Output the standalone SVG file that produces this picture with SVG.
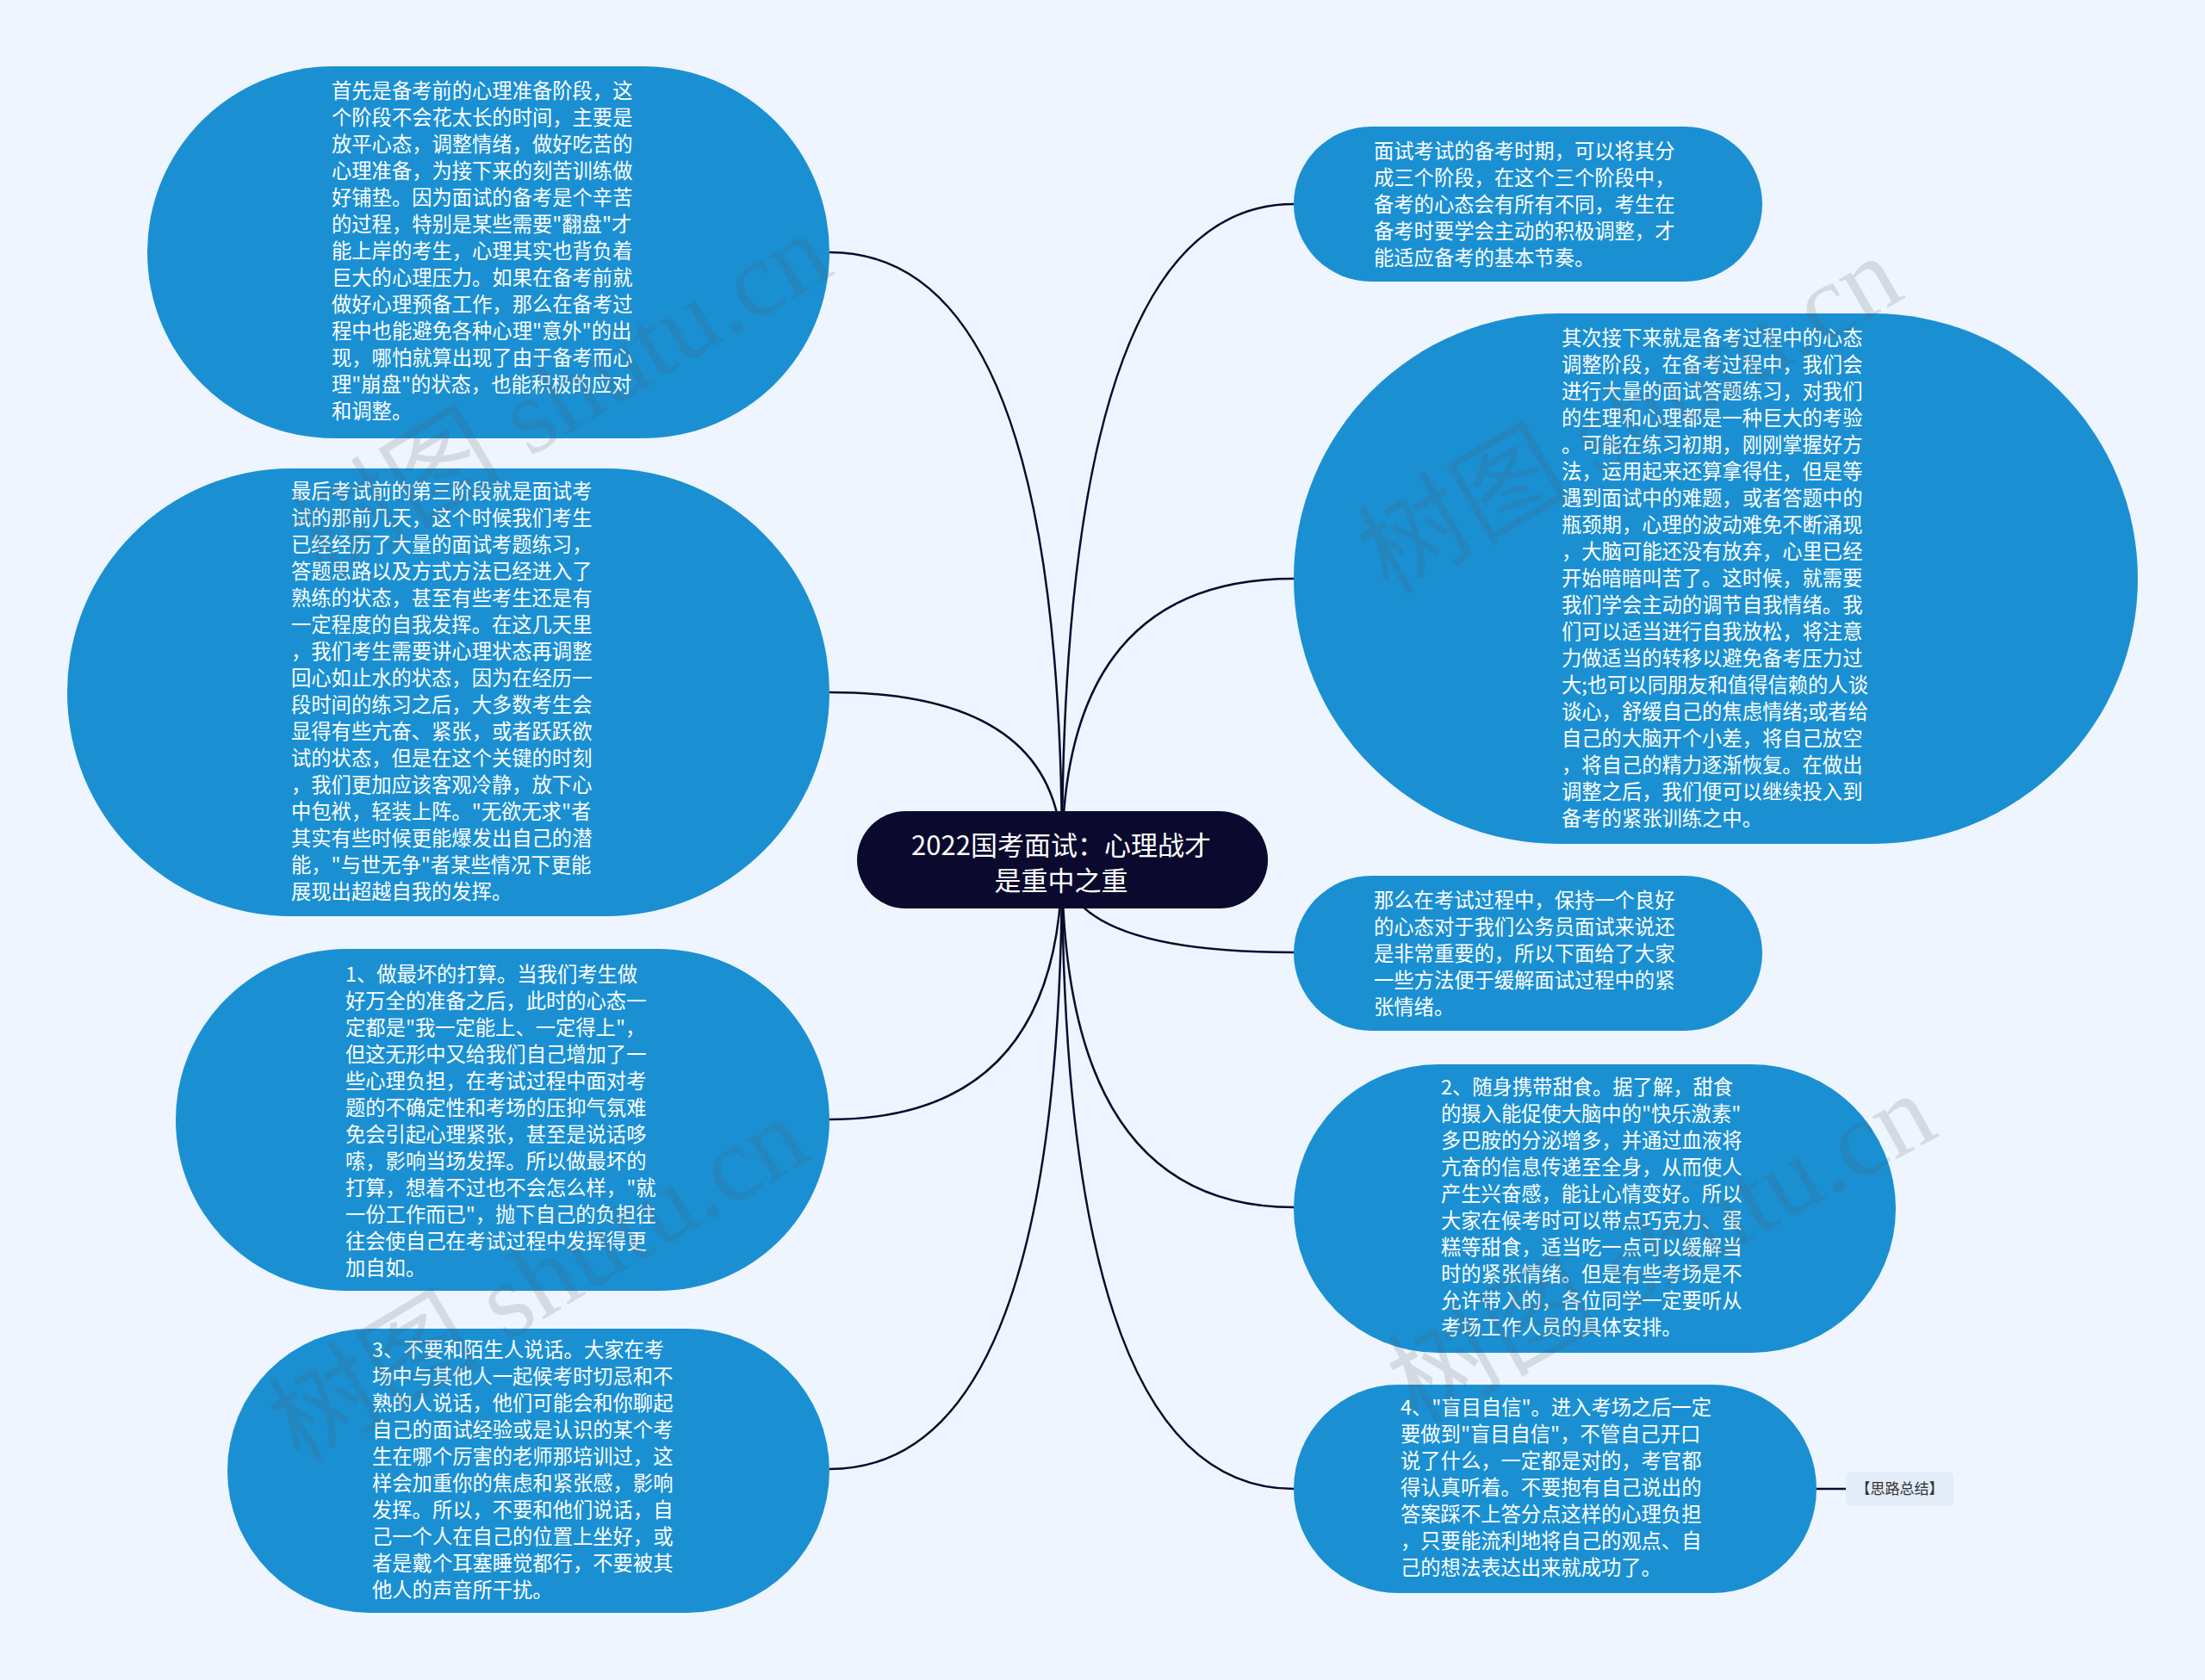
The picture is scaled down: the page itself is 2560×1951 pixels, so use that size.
<svg xmlns="http://www.w3.org/2000/svg" width="2560" height="1951" viewBox="0 0 2560 1951">
<style>
.bg{fill:#eef5fe}
.node{fill:#1a90d3}
.t{font-family:"Noto Sans CJK SC","Noto Sans",sans-serif;font-size:23.3px;fill:#ffffff}
.ct{font-family:"Noto Sans CJK SC","Noto Sans",sans-serif;font-size:31px;fill:#ffffff;text-anchor:middle}
.link{fill:none;stroke:#0b0a2e;stroke-width:2.5}
.wm{font-family:"Liberation Serif","Noto Sans CJK SC",serif;font-size:124px;fill:#555;opacity:0.16}
.tag{fill:#e3ecf9}
.tagt{font-family:"Noto Sans CJK SC",sans-serif;font-size:17px;fill:#333;text-anchor:middle}
</style>
<rect class="bg" x="0" y="0" width="2560" height="1951"/>
<g id="connectors">
<path class="link" d="M1233,998 Q1233,293 963,293"/>
<path class="link" d="M1233,998 Q1233,804 963,804"/>
<path class="link" d="M1233,998 Q1233,1300 963,1300"/>
<path class="link" d="M1233,998 Q1233,1706 963,1706"/>
<path class="link" d="M1233,998 Q1233,237 1502,237"/>
<path class="link" d="M1233,998 Q1233,672 1502,672"/>
<path class="link" d="M1233,998 Q1233,1106 1502,1106"/>
<path class="link" d="M1233,998 Q1233,1402 1502,1402"/>
<path class="link" d="M1233,998 Q1233,1729 1502,1729"/>
<path class="link" d="M2109,1729 L2143,1729"/>
</g>
<g id="center">
<rect x="995" y="942" width="477" height="113" rx="56.5" fill="#0b0a2e"/>
<text class="ct" x="1232" y="993">2022国考面试：心理战才</text>
<text class="ct" x="1232" y="1034">是重中之重</text>
</g>
<g id="n-tl">
<rect class="node" x="171" y="77" width="792" height="432" rx="216"/>
<text class="t" x="385" y="114">
<tspan x="385">首先是备考前的心理准备阶段，这</tspan>
<tspan x="385" dy="31">个阶段不会花太长的时间，主要是</tspan>
<tspan x="385" dy="31">放平心态，调整情绪，做好吃苦的</tspan>
<tspan x="385" dy="31">心理准备，为接下来的刻苦训练做</tspan>
<tspan x="385" dy="31">好铺垫。因为面试的备考是个辛苦</tspan>
<tspan x="385" dy="31">的过程，特别是某些需要"翻盘"才</tspan>
<tspan x="385" dy="31">能上岸的考生，心理其实也背负着</tspan>
<tspan x="385" dy="31">巨大的心理压力。如果在备考前就</tspan>
<tspan x="385" dy="31">做好心理预备工作，那么在备考过</tspan>
<tspan x="385" dy="31">程中也能避免各种心理"意外"的出</tspan>
<tspan x="385" dy="31">现，哪怕就算出现了由于备考而心</tspan>
<tspan x="385" dy="31">理"崩盘"的状态，也能积极的应对</tspan>
<tspan x="385" dy="31">和调整。</tspan>
</text>
</g>
<g id="n-l2">
<rect class="node" x="78" y="544" width="885" height="520" rx="260"/>
<text class="t" x="338" y="579">
<tspan x="338">最后考试前的第三阶段就是面试考</tspan>
<tspan x="338" dy="31">试的那前几天，这个时候我们考生</tspan>
<tspan x="338" dy="31">已经经历了大量的面试考题练习，</tspan>
<tspan x="338" dy="31">答题思路以及方式方法已经进入了</tspan>
<tspan x="338" dy="31">熟练的状态，甚至有些考生还是有</tspan>
<tspan x="338" dy="31">一定程度的自我发挥。在这几天里</tspan>
<tspan x="338" dy="31">，我们考生需要讲心理状态再调整</tspan>
<tspan x="338" dy="31">回心如止水的状态，因为在经历一</tspan>
<tspan x="338" dy="31">段时间的练习之后，大多数考生会</tspan>
<tspan x="338" dy="31">显得有些亢奋、紧张，或者跃跃欲</tspan>
<tspan x="338" dy="31">试的状态，但是在这个关键的时刻</tspan>
<tspan x="338" dy="31">，我们更加应该客观冷静，放下心</tspan>
<tspan x="338" dy="31">中包袱，轻装上阵。"无欲无求"者</tspan>
<tspan x="338" dy="31">其实有些时候更能爆发出自己的潜</tspan>
<tspan x="338" dy="31">能，"与世无争"者某些情况下更能</tspan>
<tspan x="338" dy="31">展现出超越自我的发挥。</tspan>
</text>
</g>
<g id="n-l3">
<rect class="node" x="204" y="1102" width="759" height="397" rx="198.5"/>
<text class="t" x="401" y="1140">
<tspan x="401">1、做最坏的打算。当我们考生做</tspan>
<tspan x="401" dy="31">好万全的准备之后，此时的心态一</tspan>
<tspan x="401" dy="31">定都是"我一定能上、一定得上"，</tspan>
<tspan x="401" dy="31">但这无形中又给我们自己增加了一</tspan>
<tspan x="401" dy="31">些心理负担，在考试过程中面对考</tspan>
<tspan x="401" dy="31">题的不确定性和考场的压抑气氛难</tspan>
<tspan x="401" dy="31">免会引起心理紧张，甚至是说话哆</tspan>
<tspan x="401" dy="31">嗦，影响当场发挥。所以做最坏的</tspan>
<tspan x="401" dy="31">打算，想着不过也不会怎么样，"就</tspan>
<tspan x="401" dy="31">一份工作而已"，抛下自己的负担往</tspan>
<tspan x="401" dy="31">往会使自己在考试过程中发挥得更</tspan>
<tspan x="401" dy="31">加自如。</tspan>
</text>
</g>
<g id="n-l4">
<rect class="node" x="264" y="1543" width="699" height="330" rx="165"/>
<text class="t" x="432" y="1576">
<tspan x="432">3、不要和陌生人说话。大家在考</tspan>
<tspan x="432" dy="31">场中与其他人一起候考时切忌和不</tspan>
<tspan x="432" dy="31">熟的人说话，他们可能会和你聊起</tspan>
<tspan x="432" dy="31">自己的面试经验或是认识的某个考</tspan>
<tspan x="432" dy="31">生在哪个厉害的老师那培训过，这</tspan>
<tspan x="432" dy="31">样会加重你的焦虑和紧张感，影响</tspan>
<tspan x="432" dy="31">发挥。所以，不要和他们说话，自</tspan>
<tspan x="432" dy="31">己一个人在自己的位置上坐好，或</tspan>
<tspan x="432" dy="31">者是戴个耳塞睡觉都行，不要被其</tspan>
<tspan x="432" dy="31">他人的声音所干扰。</tspan>
</text>
</g>
<g id="n-r1">
<rect class="node" x="1502" y="147" width="544" height="180" rx="90"/>
<text class="t" x="1595" y="184">
<tspan x="1595">面试考试的备考时期，可以将其分</tspan>
<tspan x="1595" dy="31">成三个阶段，在这个三个阶段中，</tspan>
<tspan x="1595" dy="31">备考的心态会有所有不同，考生在</tspan>
<tspan x="1595" dy="31">备考时要学会主动的积极调整，才</tspan>
<tspan x="1595" dy="31">能适应备考的基本节奏。</tspan>
</text>
</g>
<g id="n-r2">
<rect class="node" x="1502" y="364" width="980" height="616" rx="308"/>
<text class="t" x="1813" y="401">
<tspan x="1813">其次接下来就是备考过程中的心态</tspan>
<tspan x="1813" dy="31">调整阶段，在备考过程中，我们会</tspan>
<tspan x="1813" dy="31">进行大量的面试答题练习，对我们</tspan>
<tspan x="1813" dy="31">的生理和心理都是一种巨大的考验</tspan>
<tspan x="1813" dy="31">。可能在练习初期，刚刚掌握好方</tspan>
<tspan x="1813" dy="31">法，运用起来还算拿得住，但是等</tspan>
<tspan x="1813" dy="31">遇到面试中的难题，或者答题中的</tspan>
<tspan x="1813" dy="31">瓶颈期，心理的波动难免不断涌现</tspan>
<tspan x="1813" dy="31">，大脑可能还没有放弃，心里已经</tspan>
<tspan x="1813" dy="31">开始暗暗叫苦了。这时候，就需要</tspan>
<tspan x="1813" dy="31">我们学会主动的调节自我情绪。我</tspan>
<tspan x="1813" dy="31">们可以适当进行自我放松，将注意</tspan>
<tspan x="1813" dy="31">力做适当的转移以避免备考压力过</tspan>
<tspan x="1813" dy="31">大;也可以同朋友和值得信赖的人谈</tspan>
<tspan x="1813" dy="31">谈心，舒缓自己的焦虑情绪;或者给</tspan>
<tspan x="1813" dy="31">自己的大脑开个小差，将自己放空</tspan>
<tspan x="1813" dy="31">，将自己的精力逐渐恢复。在做出</tspan>
<tspan x="1813" dy="31">调整之后，我们便可以继续投入到</tspan>
<tspan x="1813" dy="31">备考的紧张训练之中。</tspan>
</text>
</g>
<g id="n-r3">
<rect class="node" x="1502" y="1017" width="544" height="180" rx="90"/>
<text class="t" x="1595" y="1054">
<tspan x="1595">那么在考试过程中，保持一个良好</tspan>
<tspan x="1595" dy="31">的心态对于我们公务员面试来说还</tspan>
<tspan x="1595" dy="31">是非常重要的，所以下面给了大家</tspan>
<tspan x="1595" dy="31">一些方法便于缓解面试过程中的紧</tspan>
<tspan x="1595" dy="31">张情绪。</tspan>
</text>
</g>
<g id="n-r4">
<rect class="node" x="1502" y="1236" width="699" height="335" rx="167.5"/>
<text class="t" x="1673" y="1271">
<tspan x="1673">2、随身携带甜食。据了解，甜食</tspan>
<tspan x="1673" dy="31">的摄入能促使大脑中的"快乐激素"</tspan>
<tspan x="1673" dy="31">多巴胺的分泌增多，并通过血液将</tspan>
<tspan x="1673" dy="31">亢奋的信息传递至全身，从而使人</tspan>
<tspan x="1673" dy="31">产生兴奋感，能让心情变好。所以</tspan>
<tspan x="1673" dy="31">大家在候考时可以带点巧克力、蛋</tspan>
<tspan x="1673" dy="31">糕等甜食，适当吃一点可以缓解当</tspan>
<tspan x="1673" dy="31">时的紧张情绪。但是有些考场是不</tspan>
<tspan x="1673" dy="31">允许带入的，各位同学一定要听从</tspan>
<tspan x="1673" dy="31">考场工作人员的具体安排。</tspan>
</text>
</g>
<g id="n-r5">
<rect class="node" x="1502" y="1608" width="607" height="242" rx="121"/>
<text class="t" x="1626" y="1643">
<tspan x="1626">4、"盲目自信"。进入考场之后一定</tspan>
<tspan x="1626" dy="31">要做到"盲目自信"，不管自己开口</tspan>
<tspan x="1626" dy="31">说了什么，一定都是对的，考官都</tspan>
<tspan x="1626" dy="31">得认真听着。不要抱有自己说出的</tspan>
<tspan x="1626" dy="31">答案踩不上答分点这样的心理负担</tspan>
<tspan x="1626" dy="31">，只要能流利地将自己的观点、自</tspan>
<tspan x="1626" dy="31">己的想法表达出来就成功了。</tspan>
</text>
</g>
<g id="tag">
<rect class="tag" x="2143" y="1709" width="125" height="40" rx="6"/>
<text class="tagt" x="2205.5" y="1735">【思路总结】</text>
</g>
<g id="watermarks">
<text class="wm" transform="translate(375,675) rotate(-31)">树图 shutu.cn</text>
<text class="wm" transform="translate(1612,692) rotate(-30)">树图 shutu.cn</text>
<text class="wm" transform="translate(348,1702) rotate(-31)">树图 shutu.cn</text>
<text class="wm" transform="translate(1645,1655) rotate(-29)">树图 shutu.cn</text>
</g>
</svg>
